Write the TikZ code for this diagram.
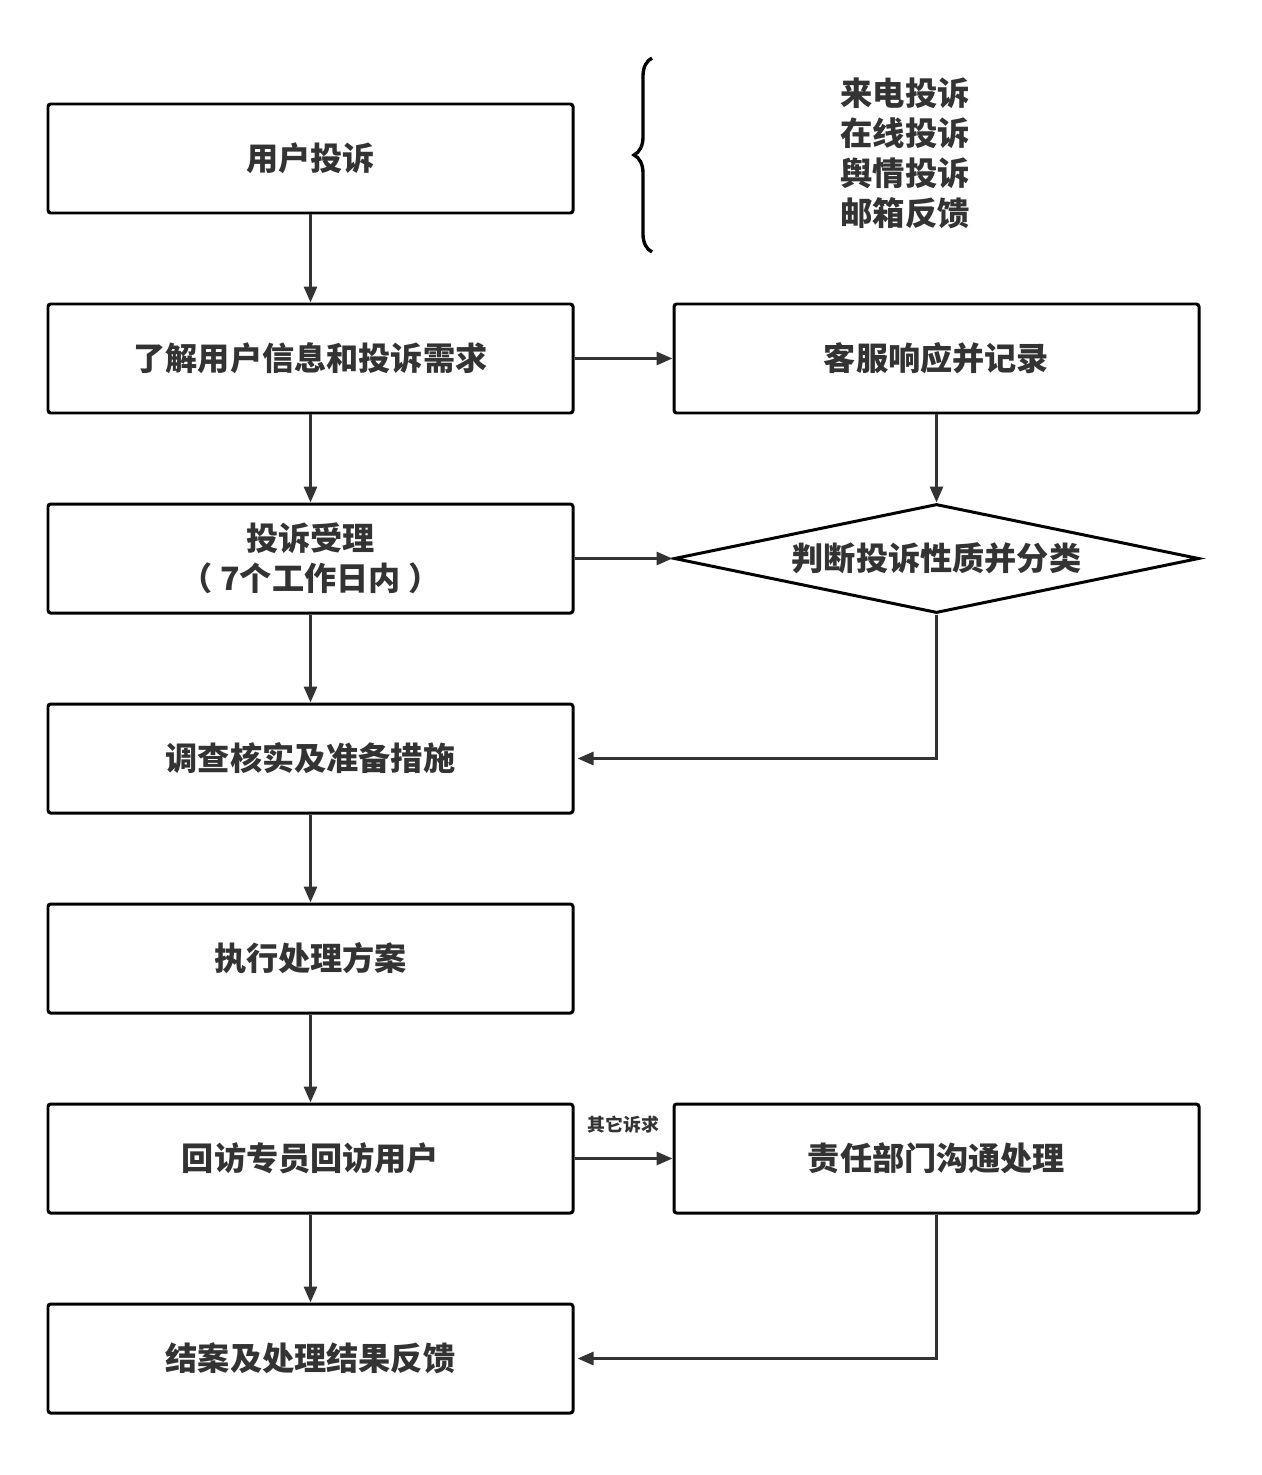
\documentclass[tikz,border=0pt]{standalone}
\usepackage{fontspec}
\setmainfont{Noto Sans CJK SC}
\usetikzlibrary{arrows.meta,shapes.geometric,decorations.pathreplacing,positioning}
\definecolor{mygray}{HTML}{333333}

\begin{document}
\begin{tikzpicture}[
  line width=1.7pt,
  font=\fontsize{18.3}{22.7}\selectfont\bfseries,
  text=mygray,
  mybox/.style={
    draw=black,
    rectangle,
    rounded corners=1.5pt,
    minimum width=10.5cm,
    minimum height=2.18cm,
    align=center
    },
  mydiamond/.style={
    draw=black,
    diamond,
    aspect=4.8,
    inner sep=0pt,
    minimum width=10.5cm,
    minimum height=2.18cm
    },
  myarrow/.style={
    draw=mygray,
    -{Triangle[length=0.32cm,width=0.26cm]}
  }
]
\useasboundingbox (0,0) rectangle (25.22,-29.5);

% left column
\node [mybox] (complain) at (6.21,-3.17) {用户投诉};
\node [mybox] (learn) at (6.21,-7.17) {了解用户信息和投诉需求};
\node [mybox] (accept) at (6.21,-11.17) {投诉受理\\（ 7个工作日内 ）};
\node [mybox] (check) at (6.21,-15.17) {调查核实及准备措施};
\node [mybox] (execute) at (6.21,-19.17) {执行处理方案};
\node [mybox] (revisit) at (6.21,-23.17) {回访专员回访用户};
\node [mybox] (close) at (6.21,-27.17) {结案及处理结果反馈};

% right column
\node [mybox] (record) at (18.73,-7.17) {客服响应并记录};
\node [mydiamond] (judge) at (18.73,-11.17) {判断投诉性质并分类};
\node [mybox] (dept) at (18.73,-23.17) {责任部门沟通处理};

% channels
\draw [black,line width=1.9pt,decorate,decoration={brace,amplitude=0.36cm}] (13.04,-5.04) -- (13.04,-1.16);
\node [align=center,font=\fontsize{18.4}{22.8}\selectfont\bfseries] (channels) at (18.1,-3.06)
  {来电投诉\\在线投诉\\舆情投诉\\邮箱反馈};

% connectors
\draw [myarrow] (complain) -- (learn);
\draw [myarrow] (learn) -- (accept);
\draw [myarrow] (accept) -- (check);
\draw [myarrow] (check) -- (execute);
\draw [myarrow] (execute) -- (revisit);
\draw [myarrow] (revisit) -- (close);
\draw [myarrow] (learn) -- (record);
\draw [myarrow] (record) -- (judge);
\draw [myarrow] (accept) -- (judge);
\draw [myarrow] (judge.south) |- ([xshift=0.06cm]check.east);
\draw [myarrow] (revisit) -- node [above=0.36cm,font=\fontsize{10.2}{12}\selectfont\bfseries] {其它诉求} (dept);
\draw [myarrow] (dept.south) |- ([xshift=0.06cm]close.east);
\end{tikzpicture}
\end{document}
